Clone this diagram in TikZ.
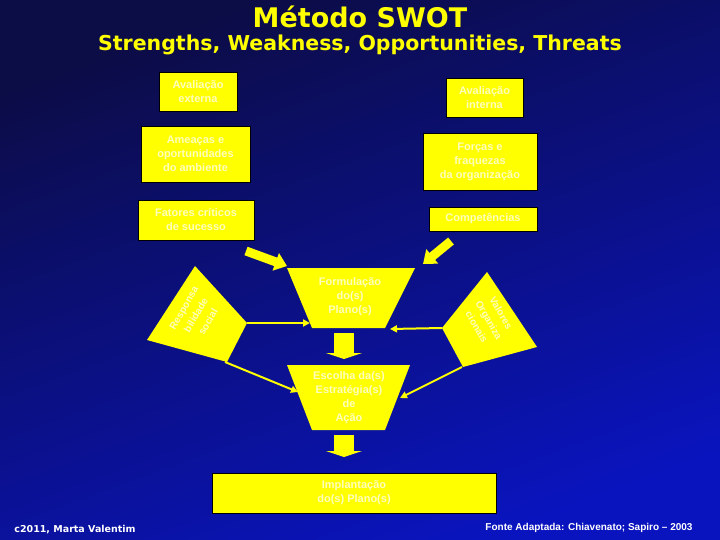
\documentclass[tikz,border=0pt]{standalone}
\usepackage{fontspec}
\setmainfont{Liberation Sans}
\newfontfamily\titlefont{DejaVu Sans}
\usetikzlibrary{arrows.meta}
\definecolor{ybox}{RGB}{255,255,0}
\definecolor{btop}{RGB}{12,12,70}
\definecolor{bbot}{RGB}{10,20,190}
\definecolor{txt}{RGB}{255,255,190}
\begin{document}
\begin{tikzpicture}[x=1pt,y=-1pt,
  ybx/.style={fill=ybox,draw=black,line width=0.8pt},
  tx/.style={text=txt,font=\bfseries\fontsize{11}{14}\selectfont,align=center},
  thin arrow/.style={draw=ybox,line width=2pt,-{Triangle[length=7pt,width=7pt]}},
  fat arrow/.style={draw=ybox,line width=9pt,-{Triangle[length=12pt,width=18pt]}}]
\shade[top color=btop,bottom color=bbot,shading angle=20] (0,0) rectangle (720,540);
\useasboundingbox (0,0) rectangle (720,540);
\node[text=ybox,font=\titlefont\bfseries\fontsize{27}{29}\selectfont] (t1) at (360,17) {Método SWOT};
\node[text=ybox,font=\titlefont\bfseries\fontsize{20.5}{22}\selectfont] (t2) at (360,45) {Strengths, Weakness, Opportunities, Threats};
% boxes
\draw[ybx] (159,72) rectangle (237,111) node[midway,tx] (ae) {Avaliação\\externa};
\draw[ybx] (446,78) rectangle (523,117) node[midway,tx] (ai) {Avaliação\\interna};
\draw[ybx] (141,126) rectangle (250,182) node[midway,tx] (am) {Ameaças e\\oportunidades\\do ambiente};
\draw[ybx] (423,133) rectangle (537,190) node[midway,tx] (fo) {Forças e\\fraquezas\\da organização};
\draw[ybx] (138,200) rectangle (254,240) node[midway,tx] (fa) {Fatores críticos\\de sucesso};
\draw[ybx] (429,207) rectangle (537,231) node[midway,tx] (co) {Competências};
\draw[ybx] (212,473) rectangle (496,513) node[midway,tx] (im) {Implantação\\do(s) Plano(s)};
% trapezoids
\fill[ybox] (287,268) -- (415,268) -- (385,328) -- (312,328) -- cycle;
\node[tx] (fp) at (350,297) {Formulação\\do(s)\\Plano(s)};
\fill[ybox] (287,365) -- (410,365) -- (385,430) -- (312,430) -- cycle;
\node[tx] (es) at (349,398) {Escolha da(s)\\Estratégia(s)\\de\\Ação};
% side shapes
\fill[ybox] (195,266) -- (247,323) -- (227,362) -- (147,340) -- cycle;
\node[tx,rotate=60,font=\bfseries\fontsize{10}{14}\selectfont] (rs) at (196,315) {Responsa\\bilidade\\social};
\fill[ybox] (487,272) -- (537,347) -- (463,367) -- (442,328) -- cycle;
\node[tx,rotate=-60,font=\bfseries\fontsize{10}{14}\selectfont] (vo) at (489,320) {Valores\\Organiza\\cionais};
\coordinate (l1) at (247,323); \coordinate (l1e) at (310,323);
\coordinate (l2) at (225,362); \coordinate (l2e) at (298,392);
\coordinate (r1) at (442,328); \coordinate (r1e) at (390,329);
\coordinate (r2) at (462,367); \coordinate (r2e) at (400,398);
\draw[thin arrow] (l1) -- (l1e);
\draw[thin arrow] (l2) -- (l2e);
\draw[thin arrow] (r1) -- (r1e);
\draw[thin arrow] (r2) -- (r2e);
% fat arrows
\coordinate (a1) at (246,251); \coordinate (a1e) at (287,266);
\coordinate (a2) at (451,241); \coordinate (a2e) at (423,264);
\draw[fat arrow] (a1) -- (a1e);
\draw[fat arrow] (a2) -- (a2e);
\coordinate (d1) at (344,333); \coordinate (d1e) at (344,359);
\coordinate (d2) at (344,435); \coordinate (d2e) at (344,457);
\draw[draw=ybox,line width=20pt,-{Triangle[length=6pt,width=36pt]}] (d1) -- (d1e);
\draw[draw=ybox,line width=20pt,-{Triangle[length=6pt,width=36pt]}] (d2) -- (d2e);
% footers
\node[text=white,font=\titlefont\bfseries\fontsize{9.5}{11}\selectfont] (f1) at (75,530) {c2011, Marta Valentim};
\node[text=white,font=\bfseries\fontsize{10}{11}\selectfont] (f2) at (589,528) {Fonte Adaptada: Chiavenato; Sapiro – 2003};
\end{tikzpicture}
\end{document}
